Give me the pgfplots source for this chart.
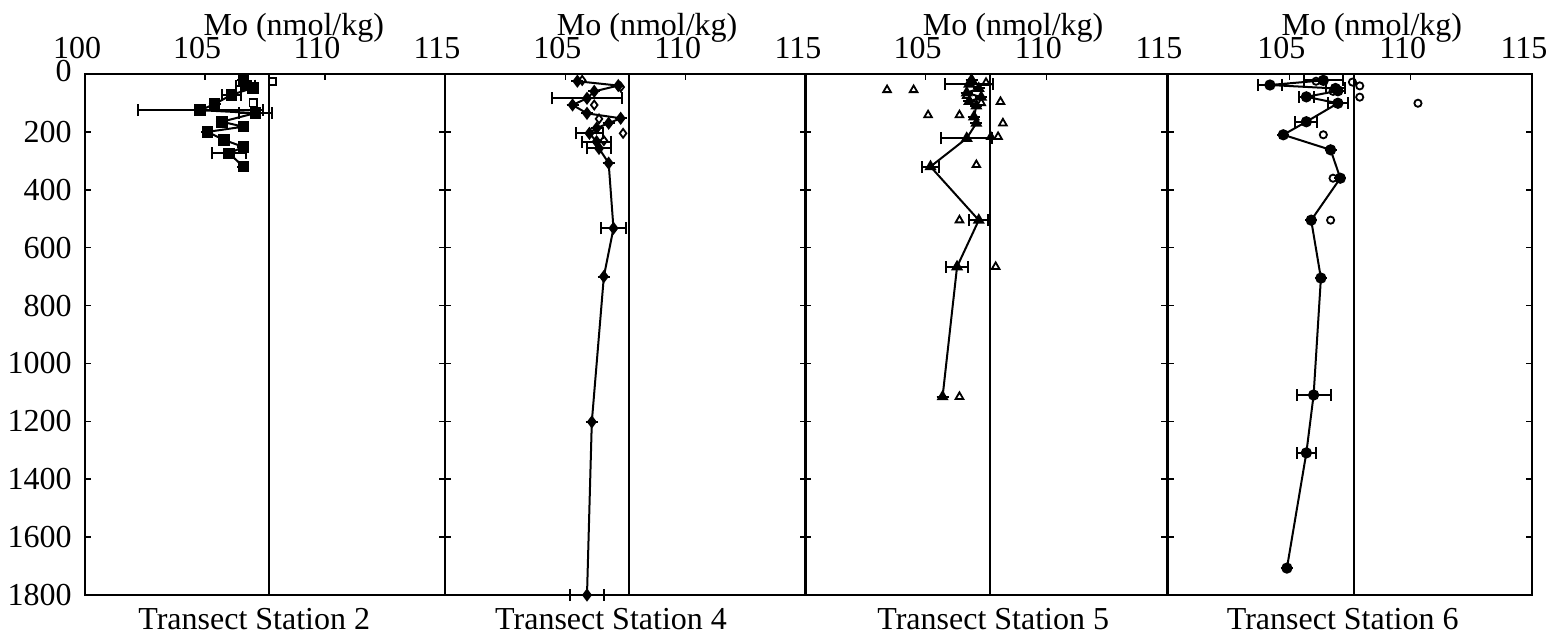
\documentclass[border=0pt]{standalone}
\usepackage{fontspec}
\setmainfont{Liberation Serif}
\usepackage{pgfplots}
\usepackage{pgfplotstable}
\pgfplotsset{compat=1.18}

% Station 2
\pgfplotstableread{
v d e
106.6 20 0
106.7 40 0.4
107.0 48 0
106.1 72 0.4
105.4 104 0
104.8 125 2.6
107.1 135 0.7
105.7 165 0
106.6 182 0
105.1 200 0
105.8 228 0
106.6 252 0
106.0 274 0.7
106.6 320 0
}\stA
\pgfplotstableread{
v d e
107.8 25 0.2
107.0 100 0
}\stAo
% Station 4
\pgfplotstableread{
v d e
105.5 25 0
107.2 40 0
106.2 60 0
105.9 84 1.45
105.3 107 0
105.9 136 0
107.3 153 0
106.8 170 0
106.3 187 0
106.0 205 0.55
106.3 234 0.6
106.4 257 0.5
106.8 308 0
107.0 533 0.5
106.6 700 0
106.1 1202 0
105.9 1800 0.7
}\stB
\pgfplotstableread{
v d
105.7 22
107.3 45
106.2 107
106.4 155
107.4 205
106.6 230
}\stBo
% Station 5
\pgfplotstableread{
v d e
106.9 20 0
106.8 35 1.0
107.2 50 0
106.7 65 0
107.3 80 0
106.8 95 0
107.1 110 0
107.0 148 0
107.1 170 0
106.7 222 1.05
105.2 320 0.35
107.2 505 0.4
106.3 666 0.45
105.7 1115 0
}\stC
\pgfplotstableread{
v d
103.4 55
104.5 55
107.5 30
106.7 75
107.3 100
108.1 96
105.1 142
106.4 142
108.2 170
107.7 217
108.0 217
107.1 314
106.4 505
107.9 666
106.4 1115
}\stCo
% Station 6
\pgfplotstableread{
v d e
106.4 22 0.8
104.2 38 0.5
106.9 50 0.4
107.0 58 0
105.7 79 0.3
107.0 101 0.4
105.7 165 0.45
104.75 210 0
106.7 262 0
107.1 360 0
105.9 505 0
106.3 705 0
106.0 1109 0.7
105.7 1309 0.4
104.9 1707 0
}\stD
\pgfplotstableread{
v d
106.1 25
107.6 28
107.9 41
106.8 60
107.9 80
110.3 101
106.4 210
106.8 360
106.7 505
}\stDo

\pgfplotsset{
  panel/.style={
    scale only axis, height=260.5pt,
    xmin=100, xmax=115, ymin=0, ymax=1800, y dir=reverse,
    xtick={100,105,110,115}, xtick pos=top, xticklabel pos=top,
    ytick={0,200,...,1800}, ytick pos=both,
    tick align=inside, major tick length=3pt,
    every tick/.style={black, line width=0.75pt},
    axis line style={line width=1.2pt},
    xticklabel style={anchor=base, yshift=8pt, xshift=-4pt},
    xlabel={Mo (nmol/kg)},
    title style={anchor=base, yshift=-23pt},
    /pgf/number format/assume math mode=true,
    clip=false,
  },
  main/.style={black, line width=1pt, mark options={solid, fill=black},
    error bars/x dir=both, error bars/x explicit,
    error bars/error bar style={line width=1pt},
    error bars/error mark options={rotate=90, line width=1pt, mark size=3pt}},
  open/.style={black, only marks, mark options={fill=white, line width=0.9pt}},
  sline/.style={black, line width=1.1pt},
}

\begin{document}
\fontsize{16}{19}\selectfont
\begin{tikzpicture}
\useasboundingbox (-42.5pt,-21pt) rectangle (732.5pt,297.5pt);

\begin{axis}[panel, at={(0pt,0pt)}, anchor=south west, width=180pt,
  yticklabels={{\raisebox{3pt}{0}\hspace{4pt}},200,400,600,800,1000,1200,1400,1600,1800},
  yticklabel style={xshift=-1.2pt},
  xlabel style={at={(axis description cs:0.58,1)}, anchor=base, yshift=19.5pt},
  title={Transect Station 2}, title style={at={(axis description cs:0.47,0)}}]
\addplot[sline] coordinates {(107.65,0) (107.65,1800)};
\addplot[main, mark=square*, mark size=2.4pt] table[x=v, y=d, x error=e] {\stA};
\addplot[open, mark=square, mark size=1.8pt] table[x=v, y=d] {\stAo};
\end{axis}

\begin{axis}[panel, at={(180pt,0pt)}, anchor=south west, width=180.5pt,
  yticklabels={}, xticklabels={,105,110,115},
  xlabel style={at={(axis description cs:0.56,1)}, anchor=base, yshift=19.5pt},
  title={Transect Station 4}, title style={at={(axis description cs:0.46,0)}}]
\addplot[sline] coordinates {(107.65,0) (107.65,1800)};
\addplot[main, mark=diamond*, mark size=2.5pt] table[x=v, y=d, x error=e] {\stB};
\addplot[open, mark=diamond, mark size=2.2pt] table[x=v, y=d] {\stBo};
\end{axis}

\begin{axis}[panel, at={(360pt,0pt)}, anchor=south west, width=181pt,
  yticklabels={}, xticklabels={,105,110,115},
  xlabel style={at={(axis description cs:0.575,1)}, anchor=base, yshift=19.5pt},
  title={Transect Station 5}, title style={at={(axis description cs:0.52,0)}}]
\addplot[sline] coordinates {(107.65,0) (107.65,1800)};
\addplot[main, mark=triangle*, mark size=2.5pt] table[x=v, y=d, x error=e] {\stC};
\addplot[open, mark=triangle, mark size=2.2pt] table[x=v, y=d] {\stCo};
\end{axis}

\begin{axis}[panel, at={(541.5pt,0pt)}, anchor=south west, width=182pt,
  yticklabels={}, xticklabels={,105,110,115},
  xlabel style={at={(axis description cs:0.56,1)}, anchor=base, yshift=19.5pt},
  title={Transect Station 6}, title style={at={(axis description cs:0.48,0)}}]
\addplot[sline] coordinates {(107.65,0) (107.65,1800)};
\addplot[main, mark=*, mark size=2.3pt] table[x=v, y=d, x error=e] {\stD};
\addplot[open, mark=o, mark size=1.8pt] table[x=v, y=d] {\stDo};
\end{axis}
\end{tikzpicture}
\end{document}
